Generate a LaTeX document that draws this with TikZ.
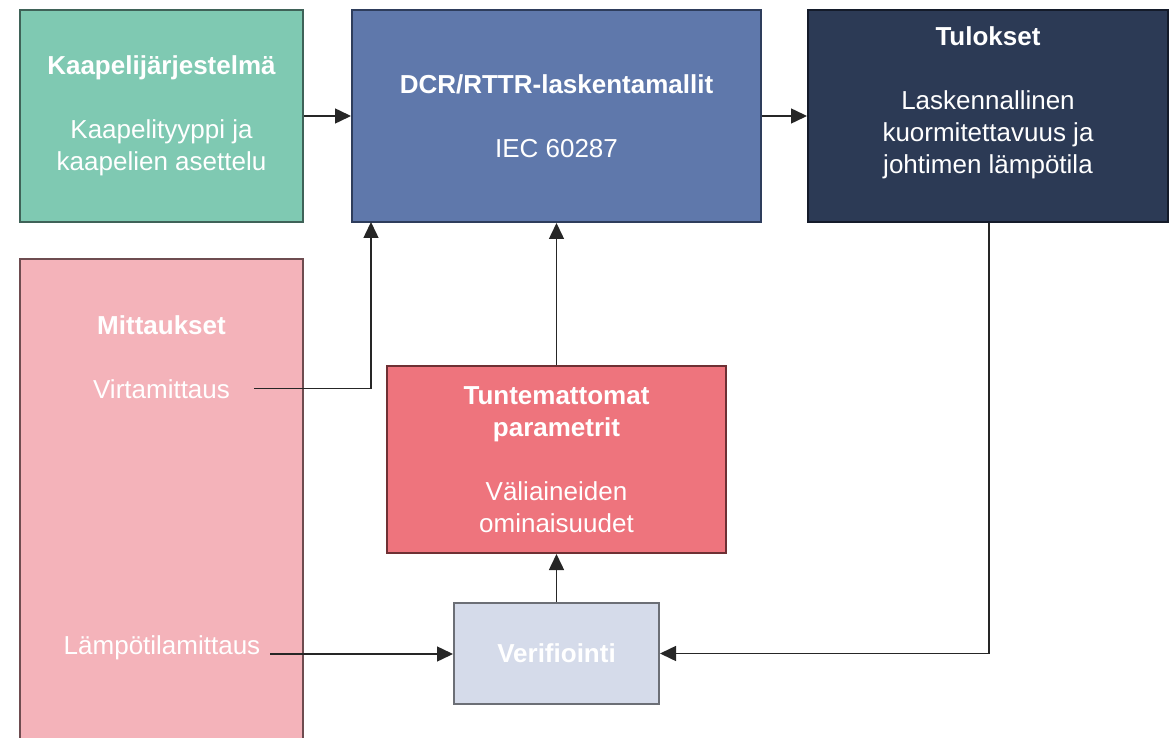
\documentclass[tikz,border=0pt]{standalone}
\usepackage{fontspec}
\setmainfont{Liberation Sans}
\usetikzlibrary{arrows.meta,positioning}

\definecolor{kaapeliFill}{HTML}{7FC9B2}
\definecolor{kaapeliLine}{HTML}{3F6258}
\definecolor{dcrFill}{HTML}{5F78AB}
\definecolor{dcrLine}{HTML}{2E3D5C}
\definecolor{tulosFill}{HTML}{2C3A55}
\definecolor{tulosLine}{HTML}{141B2A}
\definecolor{mittFill}{HTML}{F4B3BA}
\definecolor{mittLine}{HTML}{6E4C50}
\definecolor{tuntFill}{HTML}{EE747D}
\definecolor{tuntLine}{HTML}{6E3034}
\definecolor{verifFill}{HTML}{D5DBEA}
\definecolor{verifLine}{HTML}{6C6F76}

\begin{document}
\begin{tikzpicture}[x=1pt, y=-1pt,
    box/.style={draw, line width=2pt, text=white, align=center, inner sep=0pt,
                font=\fontsize{26}{32}\selectfont},
    lbl/.style={text=white, anchor=base, inner sep=0pt,
                font=\fontsize{26}{32}\selectfont},
    arr/.style={-{Triangle[length=16pt, width=15pt]}, line width=1.5pt, black!85}]

\useasboundingbox (0,0) rectangle (1173,738);

%% ---- Ylarivi ----
\node[box, fill=kaapeliFill, draw=kaapeliLine, minimum width=283, minimum height=212]
    (kaapeli) at (161.5,116) {\textbf{Kaapelijärjestelmä}\\[32pt]Kaapelityyppi ja\\kaapelien asettelu};
\node[box, fill=dcrFill, draw=dcrLine, minimum width=409, minimum height=212]
    (dcr) at (556.5,116) {\textbf{DCR/RTTR-laskentamallit}\\[32pt]IEC 60287};
\node[box, fill=tulosFill, draw=tulosLine, minimum width=360, minimum height=212]
    (tulokset) at (988,116) {\textbf{Tulokset}\\[32pt]Laskennallinen\\kuormitettavuus ja\\johtimen lämpötila\\\mbox{}};

%% ---- Mittaukset (alareuna leikattu) ----
\node[box, fill=mittFill, draw=mittLine, minimum width=283, minimum height=502]
    (mittaukset) at (161.5,510) {};
\node[lbl, font=\fontsize{26}{32}\selectfont\bfseries] (mittOtsikko) at (161.5,334) {Mittaukset};
\node[lbl, inner xsep=24pt] (virta) at (161.5,398) {Virtamittaus};
\node[lbl, inner xsep=10pt] (lampo) at (162,654) {Lämpötilamittaus};

%% ---- Keskisarake ----
\node[box, fill=tuntFill, draw=tuntLine, minimum width=339, minimum height=187]
    (tuntem) at (556.5,459.5) {\textbf{Tuntemattomat}\\\textbf{parametrit}\\[32pt]Väliaineiden\\ominaisuudet};
\node[box, fill=verifFill, draw=verifLine, minimum width=205, minimum height=101]
    (verif) at (556.5,653.5) {\textbf{Verifiointi}};

%% ---- Nuolet ----
\coordinate (virtaIn) at (371,222);
\draw[arr] (kaapeli) -- (dcr);
\draw[arr] (dcr) -- (tulokset);
\draw[arr] (virta.east) -| (virtaIn);
\draw[arr] (tuntem) -- (dcr);
\draw[arr] (verif) -- (tuntem);
\draw[arr] (lampo.base east) -- (lampo.base east -| verif.west);
\draw[arr] ([xshift=1pt]tulokset.south) |- (verif.east);

\end{tikzpicture}
\end{document}
